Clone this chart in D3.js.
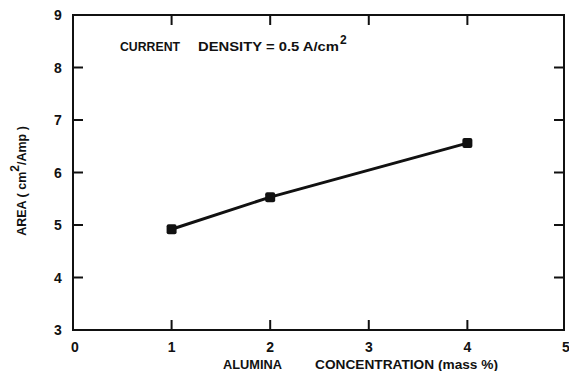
<!DOCTYPE html>
<html>
<head>
<meta charset="utf-8">
<script src="https://cdn.jsdelivr.net/npm/d3@7"></script>
<style>
  body { margin: 0; background: #fff; }
  text { font-family: "Liberation Sans", Arial, sans-serif; font-weight: bold; fill: #111; }
</style>
</head>
<body>
<div id="vis_container"></div>
<script>
// data
var concentration = [1, 2, 4];
var area = [4.92, 5.53, 6.56];
var xTicks = [0, 1, 2, 3, 4, 5];
var yTicks = [3, 4, 5, 6, 7, 8, 9];

function buildChart() {
    var width = 569;
    var height = 371;
    var plotLeft = 73, plotRight = 564, plotTop = 15, plotBottom = 330;

    var svg = d3.select("#vis_container")
        .append("svg")
        .attr("width", width)
        .attr("height", height);

    var x = d3.scaleLinear().domain([0, 5]).range([plotLeft, plotLeft + (plotRight - plotLeft) * 5 / 4.98]);
    var y = d3.scaleLinear().domain([3, 9]).range([plotBottom, plotTop]);

    // frame
    svg.append("rect")
        .attr("x", plotLeft).attr("y", plotTop)
        .attr("width", plotRight - plotLeft).attr("height", plotBottom - plotTop)
        .attr("fill", "none").attr("stroke", "#111").attr("stroke-width", 2);

    // inward ticks on all sides
    var inner = yTicks.filter(function (d) { return d > 3 && d < 9; });
    var innerX = xTicks.filter(function (d) { return d > 0 && d < 5; });

    svg.selectAll(".tl").data(inner).enter().append("line")
        .attr("x1", plotLeft).attr("x2", plotLeft + 10)
        .attr("y1", function (d) { return y(d); }).attr("y2", function (d) { return y(d); })
        .attr("stroke", "#111").attr("stroke-width", 2);
    svg.selectAll(".tr").data(inner).enter().append("line")
        .attr("x1", plotRight).attr("x2", plotRight - 10)
        .attr("y1", function (d) { return y(d); }).attr("y2", function (d) { return y(d); })
        .attr("stroke", "#111").attr("stroke-width", 2);
    svg.selectAll(".tb").data(innerX).enter().append("line")
        .attr("y1", plotBottom).attr("y2", plotBottom - 10)
        .attr("x1", function (d) { return x(d); }).attr("x2", function (d) { return x(d); })
        .attr("stroke", "#111").attr("stroke-width", 2);
    svg.selectAll(".tt").data(innerX).enter().append("line")
        .attr("y1", plotTop).attr("y2", plotTop + 10)
        .attr("x1", function (d) { return x(d); }).attr("x2", function (d) { return x(d); })
        .attr("stroke", "#111").attr("stroke-width", 2);

    // tick labels
    svg.selectAll(".yl").data(yTicks).enter().append("text")
        .attr("x", 58).attr("y", function (d) { return y(d) + 5; })
        .style("text-anchor", "middle").style("font-size", "14px")
        .text(function (d) { return d; });
    svg.selectAll(".xl").data(xTicks).enter().append("text")
        .attr("x", function (d) { return x(d) + (d == 0 ? 2 : 0); }).attr("y", 352)
        .style("text-anchor", "middle").style("font-size", "14px")
        .text(function (d) { return d; });

    // axis titles
    svg.append("text")
        .attr("x", 223).attr("y", 369)
        .style("font-size", "13px")
        .attr("textLength", 59).attr("lengthAdjust", "spacingAndGlyphs")
        .text("ALUMINA");
    svg.append("text")
        .attr("x", 315).attr("y", 369)
        .style("font-size", "13px")
        .attr("textLength", 183).attr("lengthAdjust", "spacingAndGlyphs")
        .text("CONCENTRATION (mass %)");

    var yt = svg.append("text")
        .attr("transform", "translate(26,181) rotate(-90)")
        .style("text-anchor", "middle").style("font-size", "12.5px");
    yt.append("tspan").text("AREA ( cm");
    yt.append("tspan").attr("dy", -7).style("font-size", "12px").text("2");
    yt.append("tspan").attr("dy", 7).text("/Amp )");

    // annotation
    svg.append("text")
        .attr("x", 120).attr("y", 51)
        .style("font-size", "12.5px")
        .attr("textLength", 60).attr("lengthAdjust", "spacingAndGlyphs")
        .text("CURRENT");
    svg.append("text")
        .attr("x", 198).attr("y", 51)
        .style("font-size", "12.5px")
        .attr("textLength", 141).attr("lengthAdjust", "spacingAndGlyphs")
        .text("DENSITY = 0.5 A/cm");
    svg.append("text")
        .attr("x", 340).attr("y", 44)
        .style("font-size", "12px")
        .text("2");

    // line and markers
    var points = concentration.map(function (c, i) { return { c: c, a: area[i] }; });
    var lineFunc = d3.line()
        .x(function (d) { return x(d.c); })
        .y(function (d) { return y(d.a); });

    svg.append("path")
        .attr("d", lineFunc(points))
        .attr("stroke", "#111")
        .attr("stroke-width", 3)
        .attr("fill", "none");

    svg.selectAll(".pt").data(points).enter().append("rect")
        .attr("x", function (d) { return x(d.c) - 5; })
        .attr("y", function (d) { return y(d.a) - 5; })
        .attr("width", 10).attr("height", 10).attr("rx", 2)
        .attr("fill", "#111");
}

buildChart();
</script>
</body>
</html>
